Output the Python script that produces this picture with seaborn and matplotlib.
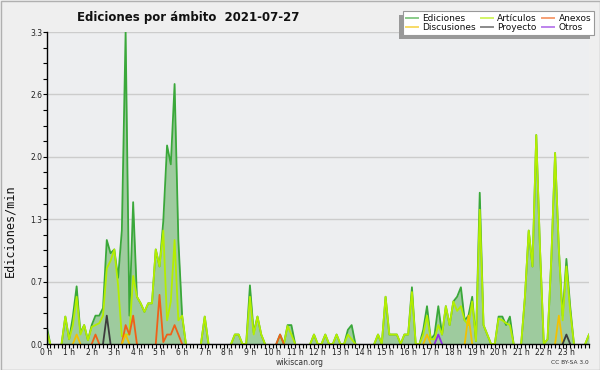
import numpy as np
import pandas as pd
import matplotlib
matplotlib.use("Agg")
import matplotlib.pyplot as plt
import seaborn as sns
from matplotlib.lines import Line2D
from matplotlib.patches import Rectangle

# ---- data: edits per minute, sampled every 10 minutes, 00:00 .. 24:00 ----
ediciones = [
    0.2, 0, 0, 0, 0, 0.29, 0.05, 0.29, 0.61, 0.12, 0.2, 0.04,
    0.2, 0.3, 0.3, 0.38, 1.1, 0.96, 1.0, 0.7, 1.2, 3.3, 0.3, 1.5,
    0.5, 0.43, 0.34, 0.43, 0.43, 1.0, 0.82, 1.3, 2.1, 1.9, 2.75, 1.1,
    0.3, 0, 0, 0, 0, 0, 0.29, 0, 0, 0, 0, 0,
    0, 0, 0.1, 0.1, 0, 0, 0.62, 0.12, 0.29, 0.1, 0, 0,
    0, 0, 0.1, 0, 0.2, 0.2, 0, 0, 0, 0, 0, 0.1,
    0, 0, 0.1, 0, 0, 0.1, 0, 0, 0.15, 0.2, 0, 0,
    0, 0, 0, 0, 0.1, 0, 0.5, 0.1, 0.1, 0.1, 0, 0.1,
    0.1, 0.6, 0, 0, 0.15, 0.4, 0.05, 0.1, 0.4, 0.1, 0.4, 0.2,
    0.45, 0.5, 0.6, 0.25, 0.3, 0.5, 0.03, 1.6, 0.2, 0.1, 0, 0,
    0.29, 0.29, 0.2, 0.29, 0, 0, 0, 0.5, 1.2, 0.82, 2.21, 1.0,
    0, 0.05, 0.9, 2.02, 1.0, 0.3, 0.9, 0.4, 0, 0, 0, 0,
    0.1,
]
articulos = [
    0.15, 0, 0, 0, 0, 0.29, 0.05, 0.2, 0.5, 0.1, 0.2, 0.04,
    0.18, 0.2, 0.22, 0.3, 0.8, 0.88, 1.0, 0.62, 0.08, 0.1, 0.1, 0.72,
    0.5, 0.43, 0.34, 0.43, 0.43, 1.0, 0.82, 1.2, 0.25, 0.45, 1.1, 0.25,
    0.3, 0, 0, 0, 0, 0, 0.29, 0, 0, 0, 0, 0,
    0, 0, 0.1, 0.1, 0, 0, 0.5, 0.1, 0.29, 0.1, 0, 0,
    0, 0, 0, 0, 0.19, 0.1, 0, 0, 0, 0, 0, 0.1,
    0, 0, 0.1, 0, 0, 0.1, 0, 0, 0.1, 0.05, 0, 0,
    0, 0, 0, 0, 0.1, 0, 0.5, 0.1, 0.1, 0.1, 0, 0.1,
    0.1, 0.55, 0, 0, 0.1, 0.3, 0.05, 0.05, 0.2, 0.1, 0.4, 0.2,
    0.45, 0.35, 0.4, 0.25, 0.2, 0.45, 0.03, 1.42, 0.2, 0.1, 0, 0,
    0.27, 0.25, 0.22, 0.2, 0, 0, 0, 0.5, 1.2, 0.82, 2.21, 1.0,
    0, 0.05, 0.9, 2.02, 1.0, 0.25, 0.82, 0.35, 0, 0, 0, 0,
    0.1,
]
anexos = [
    0, 0, 0, 0, 0, 0, 0, 0, 0, 0, 0, 0,
    0, 0.1, 0, 0, 0, 0, 0, 0, 0, 0.2, 0.1, 0.3,
    0, 0, 0, 0, 0, 0, 0.52, 0.02, 0.1, 0.1, 0.2, 0.1,
    0, 0, 0, 0, 0, 0, 0, 0, 0, 0, 0, 0,
    0, 0, 0, 0, 0, 0, 0, 0, 0, 0, 0, 0,
    0, 0, 0.1, 0, 0, 0, 0, 0, 0, 0, 0, 0,
    0, 0, 0, 0, 0, 0, 0, 0, 0, 0, 0, 0,
    0, 0, 0, 0, 0, 0, 0, 0, 0, 0, 0, 0,
    0, 0, 0, 0, 0, 0, 0, 0, 0, 0, 0, 0,
    0, 0, 0, 0, 0, 0, 0, 0, 0, 0, 0, 0,
    0, 0, 0, 0, 0, 0, 0, 0, 0, 0, 0, 0,
    0, 0, 0, 0, 0, 0, 0, 0, 0, 0, 0, 0,
    0,
]
discusiones = [
    0, 0, 0, 0, 0, 0, 0, 0, 0.1, 0, 0, 0,
    0, 0, 0, 0, 0, 0, 0, 0, 0, 0.1, 0, 0,
    0, 0, 0, 0, 0, 0, 0, 0, 0, 0, 0, 0,
    0, 0, 0, 0, 0, 0, 0, 0, 0, 0, 0, 0,
    0, 0, 0, 0, 0, 0, 0, 0, 0, 0, 0, 0,
    0, 0, 0, 0, 0, 0, 0, 0, 0, 0, 0, 0,
    0, 0, 0, 0, 0, 0, 0, 0, 0, 0, 0, 0,
    0, 0, 0, 0, 0, 0, 0, 0, 0, 0, 0, 0,
    0, 0, 0, 0, 0, 0.1, 0, 0, 0, 0, 0, 0,
    0, 0, 0, 0, 0.3, 0, 0, 0, 0, 0, 0, 0,
    0, 0, 0, 0, 0, 0, 0, 0, 0, 0, 0, 0,
    0, 0, 0, 0, 0.3, 0, 0, 0, 0, 0, 0, 0,
    0,
]
proyecto = [
    0, 0, 0, 0, 0, 0, 0, 0, 0, 0, 0, 0,
    0, 0, 0, 0, 0.3, 0, 0, 0, 0, 0, 0, 0,
    0, 0, 0, 0, 0, 0, 0, 0, 0, 0, 0, 0,
    0, 0, 0, 0, 0, 0, 0, 0, 0, 0, 0, 0,
    0, 0, 0, 0, 0, 0, 0, 0, 0, 0, 0, 0,
    0, 0, 0, 0, 0, 0, 0, 0, 0, 0, 0, 0,
    0, 0, 0, 0, 0, 0, 0, 0, 0, 0, 0, 0,
    0, 0, 0, 0, 0, 0, 0, 0, 0, 0, 0, 0,
    0, 0, 0, 0, 0, 0, 0, 0, 0, 0, 0, 0,
    0, 0, 0, 0, 0, 0, 0, 0, 0, 0, 0, 0,
    0, 0, 0, 0, 0, 0, 0, 0, 0, 0, 0, 0,
    0, 0, 0, 0, 0, 0, 0.1, 0, 0, 0, 0, 0,
    0,
]
otros = [
    0, 0, 0, 0, 0, 0, 0, 0, 0, 0, 0, 0,
    0, 0, 0, 0, 0, 0, 0, 0, 0, 0, 0, 0,
    0, 0, 0, 0, 0, 0, 0, 0, 0, 0, 0, 0,
    0, 0, 0, 0, 0, 0, 0, 0, 0, 0, 0, 0,
    0, 0, 0, 0, 0, 0, 0, 0, 0, 0, 0, 0,
    0, 0, 0, 0, 0, 0, 0, 0, 0, 0, 0, 0,
    0, 0, 0, 0, 0, 0, 0, 0, 0, 0, 0, 0,
    0, 0, 0, 0, 0, 0, 0, 0, 0, 0, 0, 0,
    0, 0, 0, 0, 0, 0, 0, 0, 0.1, 0, 0, 0,
    0, 0, 0, 0, 0, 0, 0, 0, 0, 0, 0, 0,
    0, 0, 0, 0, 0, 0, 0, 0, 0, 0, 0, 0,
    0, 0, 0, 0, 0, 0, 0, 0, 0, 0, 0, 0,
    0,
]

series_names = ["Ediciones", "Artículos", "Anexos", "Discusiones", "Proyecto", "Otros"]
series_values = [ediciones, articulos, anexos, discusiones, proyecto, otros]
line_colors = {
    "Ediciones": "#3aa83a",
    "Artículos": "#b4ee00",
    "Anexos": "#f06018",
    "Discusiones": "#f2c200",
    "Proyecto": "#3c3c3c",
    "Otros": "#9030e0",
}
legend_order = ["Ediciones", "Discusiones", "Artículos", "Proyecto", "Anexos", "Otros"]
hour_labels = [f"{h} h" for h in range(24)]
ytick_vals = [0, 0.66, 1.32, 1.98, 2.64, 3.3]
ytick_labels = ["0.0", "0.7", "1.3", "2.0", "2.6", "3.3"]
title_text = "Ediciones por ámbito  2021-07-27"
ylabel_text = "Ediciones/min"

# ---- figure ----
W, H = 600, 370
fig = plt.figure(figsize=(W / 100, H / 100), dpi=100, facecolor="#efefef")
ax = fig.add_axes([46.5 / W, 1 - 344 / H, (589 - 46.5) / W, (344 - 32) / H])
ax.set_facecolor("#edeef0")

hours = np.arange(len(ediciones)) / 6.0

# fill under total
ax.fill_between(hours, ediciones, 0, color="#9ecb9e", lw=0, zorder=1.5)

# lines (hide long runs of zeros so the baseline stays clean)
for name, vals in zip(series_names, series_values):
    v = np.asarray(vals, float)
    z = v == 0
    prev_z = np.r_[True, z[:-1]]
    next_z = np.r_[z[1:], True]
    keep = ~(z & prev_z & next_z)
    seg = np.cumsum(~keep)
    df = pd.DataFrame({"hour": hours, "value": v, "seg": seg})[keep]
    if df.empty:
        continue
    sns.lineplot(data=df, x="hour", y="value", units="seg", estimator=None,
                 color=line_colors[name], lw=1.3, ax=ax, legend=False,
                 zorder=2, sort=False)

ax.set_xlim(0, 24)
ax.set_ylim(0, 3.3)
ax.set_xlabel("")
ax.set_ylabel("")

ax.set_xticks(range(24))
ax.set_xticklabels(hour_labels, fontsize=5.5)
ax.set_xticks(np.arange(0, 24.001, 1 / 6), minor=True)
ax.set_yticks(ytick_vals)
ax.set_yticklabels(ytick_labels, fontsize=5.5, color="#222222")
ax.set_yticks(np.arange(0, 3.301, 0.165), minor=True)
ax.tick_params(axis="both", which="both", direction="out", length=2.6,
               width=0.8, color="black", pad=0.5)
for lab in ax.get_xticklabels():
    lab.set_color("#222222")

ax.yaxis.grid(True, which="major", color="#cccccc", lw=1, zorder=0)
ax.xaxis.grid(False)
ax.set_axisbelow(True)
for s in ["top", "right"]:
    ax.spines[s].set_visible(False)
for s in ["left", "bottom"]:
    ax.spines[s].set_color("black")
    ax.spines[s].set_linewidth(1.0)
    ax.spines[s].set_zorder(5)

# texts
fig.text(188 / W, 1 - 17 / H, title_text, ha="center", va="center",
         fontsize=8.5, fontweight="bold", color="#111111")
fig.text(10 / W, 1 - 231 / H, ylabel_text, ha="center", va="center",
         rotation=90, fontsize=8.5, family="DejaVu Sans Mono", color="#111111")
fig.text(300 / W, 1 - 362.5 / H, "wikiscan.org", ha="center", va="center",
         fontsize=5.5, color="#333333")
fig.text(589 / W, 1 - 362.5 / H, "CC BY-SA 3.0", ha="right", va="center",
         fontsize=4.2, color="#333333")

# legend
handles = [Line2D([], [], color=line_colors[n], lw=1.4, alpha=0.6) for n in legend_order]
leg = fig.legend(handles, legend_order, ncol=3, loc="upper right",
                 bbox_to_anchor=(594 / W, 1 - 11 / H), fontsize=6.5,
                 frameon=True, fancybox=False,
                 shadow={"ox": -3, "oy": -3, "facecolor": "#999999",
                         "edgecolor": "none", "alpha": 1},
                 handlelength=1.3, handletextpad=0.5, columnspacing=0.6,
                 labelspacing=0.05, borderpad=0.3, borderaxespad=0)
leg.get_frame().set_edgecolor("#999999")
leg.get_frame().set_facecolor("white")
leg.get_frame().set_linewidth(0.8)
for t in leg.get_texts():
    t.set_color("#111111")

# outer border
fig.patches.append(Rectangle((0.5 / W, 0.5 / H), 1 - 1 / W, 1 - 1 / H,
                             transform=fig.transFigure, fill=False,
                             edgecolor="#b0b0b0", lw=1))

fig.savefig("out.png", dpi=100, facecolor=fig.get_facecolor())
